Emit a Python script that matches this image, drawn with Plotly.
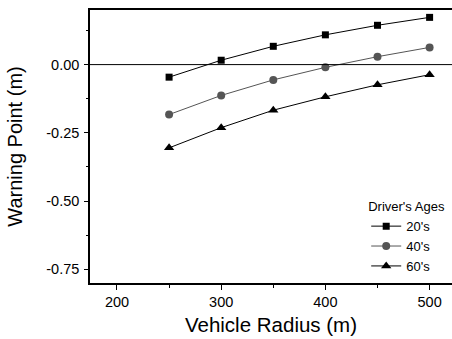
import plotly.graph_objects as go

radius = [250, 300, 350, 400, 450, 500]
age20 = [-0.046, 0.016, 0.067, 0.109, 0.144, 0.173]
age40 = [-0.183, -0.113, -0.056, -0.010, 0.029, 0.063]
age60 = [-0.305, -0.231, -0.167, -0.118, -0.074, -0.037]
series_names = ["20's", "40's", "60's"]
y_ticks = [0, -0.25, -0.5, -0.75]
y_ticklabels = ["0.00", "-0.25", "-0.50", "-0.75"]

fig = go.Figure()
styles = [
    (age20, "square", "#000000", "#000000", 7),
    (age40, "circle", "#555555", "#555555", 8),
    (age60, "triangle-up", "#000000", "#000000", 9),
]
for name, (vals, sym, lc, mc, ms) in zip(series_names, styles):
    fig.add_trace(go.Scatter(
        x=radius, y=vals, name=name, mode="lines+markers",
        line=dict(color=lc, width=1),
        marker=dict(symbol=sym, color=mc, size=ms),
    ))

fig.add_hline(y=0, line=dict(color="black", width=1))

fig.update_layout(
    width=452, height=339,
    margin=dict(l=90, r=0, t=10, b=56, autoexpand=False),
    paper_bgcolor="white", plot_bgcolor="white",
    font=dict(family="Arial, Liberation Sans, sans-serif", color="black", size=14),
    xaxis=dict(
        range=[174.1, 521.5], tickvals=[200, 300, 400, 500],
        ticks="outside", ticklen=5, tickwidth=1, tickcolor="black",
        minor=dict(tickvals=[250, 350, 450], ticks="outside", ticklen=3, tickcolor="black"),
        showline=True, linecolor="black", linewidth=1.5, mirror=True,
        showgrid=False, zeroline=False, automargin=False,
        tickfont=dict(size=14.5),
        title=dict(text="Vehicle Radius (m)", font=dict(size=20.5), standoff=8),
    ),
    yaxis=dict(
        range=[-0.8, 0.2], tickvals=y_ticks, ticktext=y_ticklabels,
        ticks="outside", ticklen=4, tickwidth=1, tickcolor="black",
        minor=dict(tickvals=[0.125, -0.125, -0.375, -0.625], ticks="outside", ticklen=2, tickcolor="black"),
        showline=True, linecolor="black", linewidth=1.5, mirror=False,
        showgrid=False, zeroline=False, automargin=False,
        tickfont=dict(size=14.5), ticklabelstandoff=2,
        title=dict(text="Warning Point (m)", font=dict(size=20), standoff=18),
    ),
    legend=dict(
        title=dict(text="Driver's Ages", font=dict(size=13)),
        font=dict(size=13), x=0.763, y=0.325, xanchor="left", yanchor="top",
        bgcolor="rgba(0,0,0,0)", itemwidth=30, tracegroupgap=0,
    ),
    showlegend=True,
)

fig.write_html("out.html", config={"displayModeBar": False},
               post_script="document.body.style.margin='0';")
